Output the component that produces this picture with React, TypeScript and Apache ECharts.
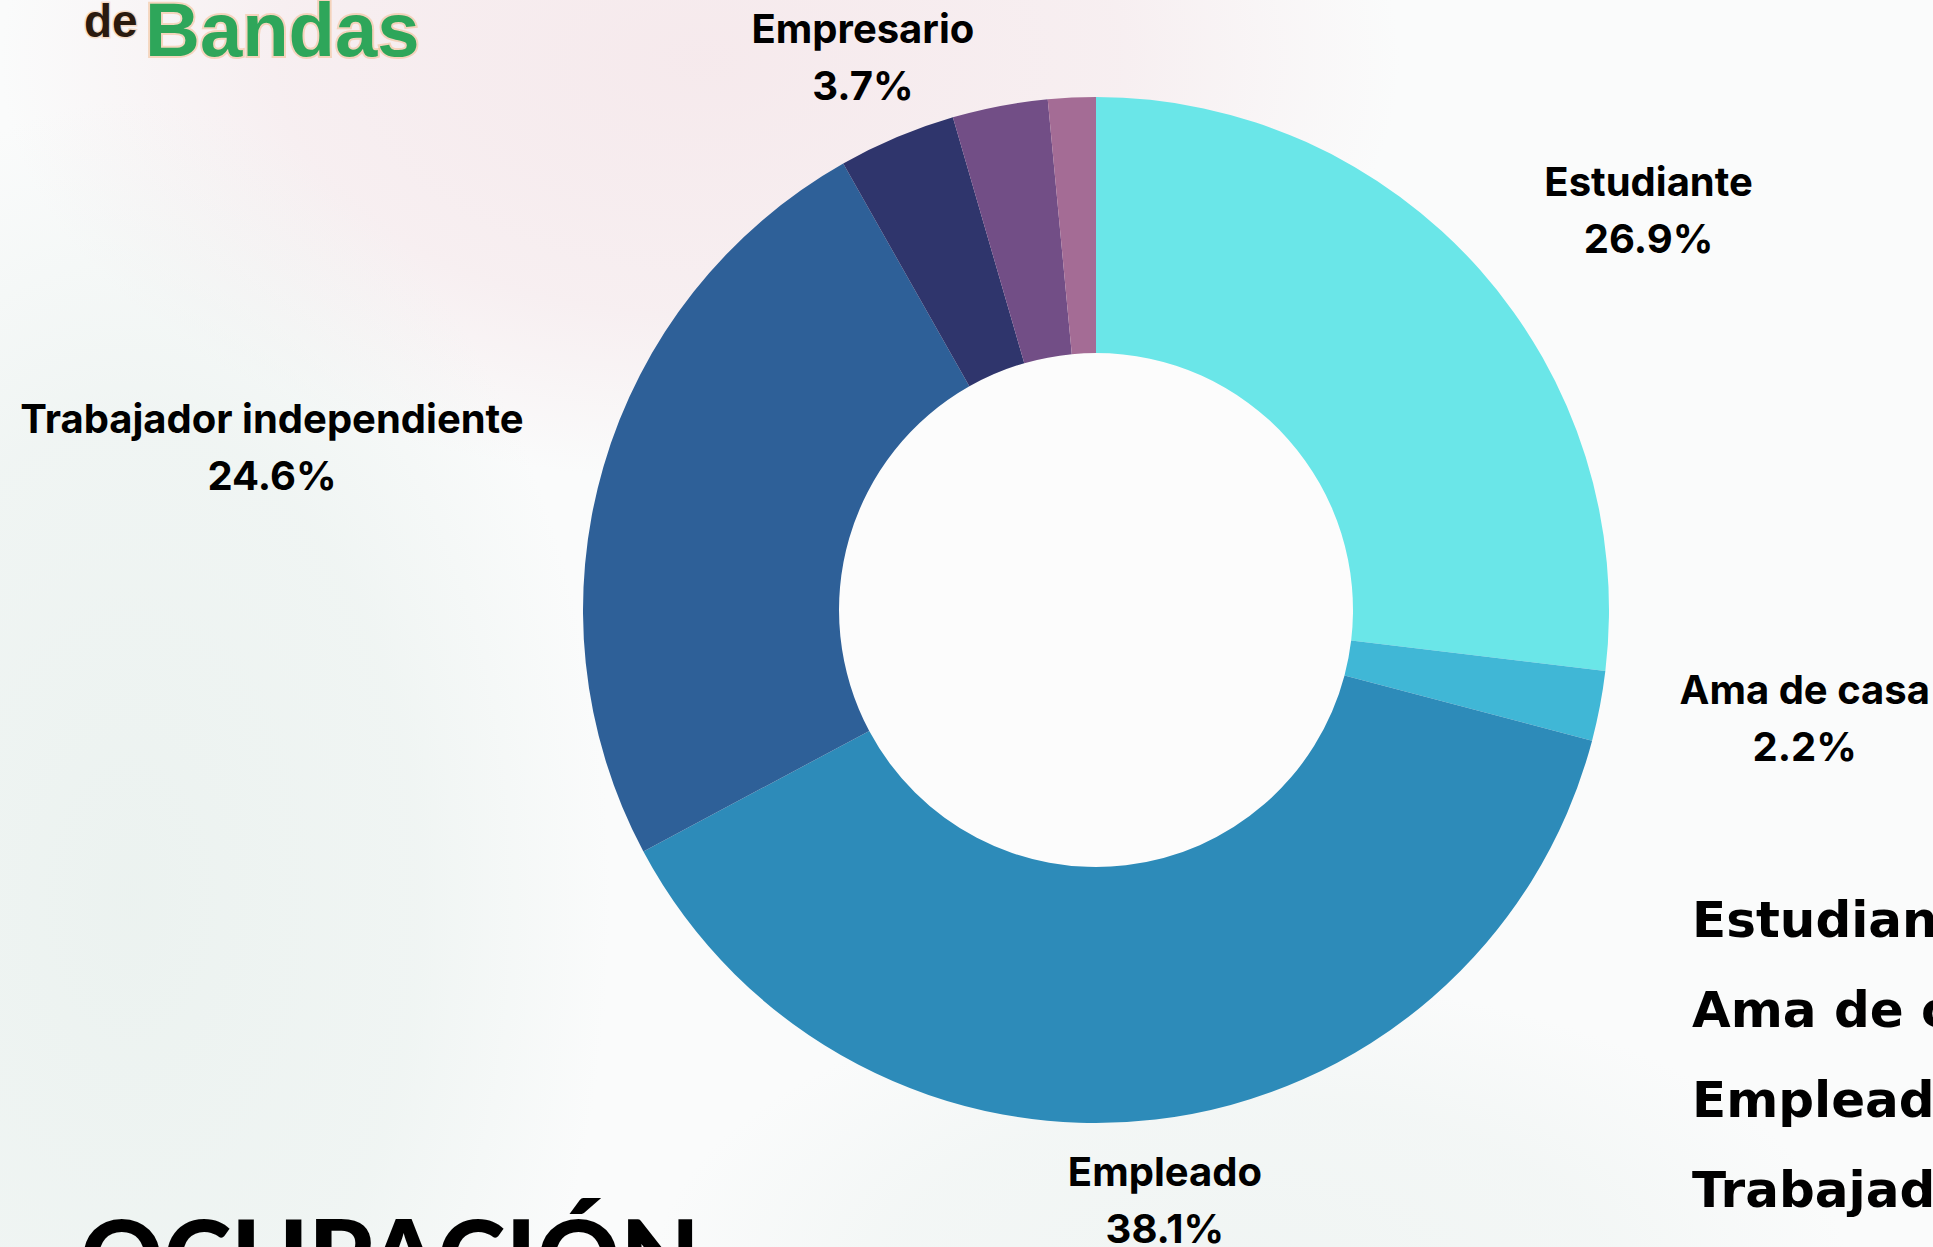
import React, { useEffect, useRef } from "react";
import * as echarts from "echarts";

// ---- data ----
const CATEGORIES = [
  "Estudiante",
  "Ama de casa",
  "Empleado",
  "Trabajador independiente",
  "Empresario",
  "Desempleado",
  "Otro",
];
const VALUES = [26.9, 2.2, 38.1, 24.6, 3.7, 3.0, 1.5];
const SHOW_LABEL = [true, true, true, true, true, false, false];
const TITLE = "OCUPACIÓN";
const LOGO_SMALL = "de";
const LOGO_BIG = "Bandas";

// ---- styles ----
const COLORS = ["#6ae6e8", "#40b7d6", "#2d8bb9", "#2e6098", "#2f356c", "#724e86", "#a46c95"];
const LABEL_EXTRA_R = [169, 204, 81, 327, 87, 0, 0];
const LABEL_ANGLE_SHIFT = [5.7, -2.1, 0, -5.0, 0, 0, 0];
const W = 1933;
const H = 1247;
const CX = 1096;
const CY = 610;
const R_IN = 257;
const R_OUT = 513;

function blob(cx: number, cy: number, rx: number, ry: number, rgb: string, a: number) {
  return {
    type: "ellipse",
    z: -10,
    silent: true,
    shape: { cx, cy, rx, ry },
    style: {
      fill: {
        type: "radial",
        x: 0.5,
        y: 0.5,
        r: 0.5,
        colorStops: [
          { offset: 0, color: `rgba(${rgb},${a})` },
          { offset: 0.6, color: `rgba(${rgb},${a * 0.7})` },
          { offset: 1, color: `rgba(${rgb},0)` },
        ],
      },
    },
  };
}

export default function App() {
  const ref = useRef<HTMLDivElement>(null);

  useEffect(() => {
    document.body.style.margin = "0";
    document.body.style.overflow = "hidden";
    if (!ref.current) return;
    const chart = echarts.init(ref.current, null, { renderer: "svg" });
    const total = VALUES.reduce((a, b) => a + b, 0);

    const option: any = {
      animation: false,
      backgroundColor: "#fafbfb",
      graphic: [
        blob(700, 60, 700, 420, "244,226,230", 0.7),
        blob(130, 900, 480, 800, "232,240,237", 0.8),
        blob(1250, 1280, 600, 300, "236,242,240", 0.7),
        {
          type: "circle",
          z: -5,
          silent: true,
          shape: { cx: CX, cy: CY, r: R_IN },
          style: { fill: "#fcfcfc" },
        },
        {
          type: "text",
          z: 10,
          x: 84,
          y: 21,
          style: {
            text: LOGO_SMALL,
            fill: "#2b1a0e",
            stroke: "rgba(240,170,110,0.35)",
            lineWidth: 3,
            font: "bold 46px 'Liberation Sans'",
            verticalAlign: "middle",
            align: "left",
          },
        },
        {
          type: "text",
          z: 10,
          x: 145,
          y: 29,
          style: {
            text: LOGO_BIG,
            fill: "#2ea65a",
            stroke: "rgba(240,170,110,0.4)",
            lineWidth: 4,
            font: "bold 76px 'Liberation Sans'",
            verticalAlign: "middle",
            align: "left",
          },
        },
        {
          type: "text",
          z: 10,
          x: 80,
          y: 1254,
          style: {
            text: TITLE,
            fill: "#000000",
            font: "900 103px Lato",
            verticalAlign: "middle",
            align: "left",
          },
        },
      ],
      legend: {
        orient: "vertical",
        left: 1682,
        top: 885,
        itemWidth: 0,
        itemHeight: 0,
        itemGap: 30,
        selectedMode: false,
        data: CATEGORIES,
        textStyle: {
          fontFamily: "DejaVu Sans",
          fontWeight: "bold",
          fontSize: 50,
          lineHeight: 60,
          color: "#000000",
        },
      },
      series: [
        {
          type: "pie",
          center: [CX, CY],
          radius: [R_IN, R_OUT],
          startAngle: 90,
          clockwise: true,
          avoidLabelOverlap: false,
          label: {
            show: true,
            position: "outside",
            formatter: (p: any) => `${p.name}\n${p.value}%`,
            fontFamily: "Inter",
            fontWeight: 700,
            fontSize: 40,
            lineHeight: 57,
            color: "#000000",
            align: "center",
          },
          labelLine: { show: false },
          labelLayout: (p: any) => {
            const i = p.dataIndex;
            if (!SHOW_LABEL[i]) return {};
            let before = 0;
            for (let k = 0; k < i; k++) before += VALUES[k];
            const mid = ((before + VALUES[i] / 2) / total) * 360 + LABEL_ANGLE_SHIFT[i];
            const r = R_OUT + LABEL_EXTRA_R[i];
            const rad = (mid * Math.PI) / 180;
            return {
              x: CX + r * Math.sin(rad),
              y: CY - r * Math.cos(rad),
              align: "center",
              verticalAlign: "middle",
            };
          },
          emphasis: { disabled: true },
          data: CATEGORIES.map((name, i) => ({
            name,
            value: VALUES[i],
            itemStyle: { color: COLORS[i] },
            label: { show: SHOW_LABEL[i] },
          })),
        },
      ],
    };

    chart.setOption(option);
    return () => chart.dispose();
  }, []);

  return <div ref={ref} style={{ width: W, height: H }} />;
}
